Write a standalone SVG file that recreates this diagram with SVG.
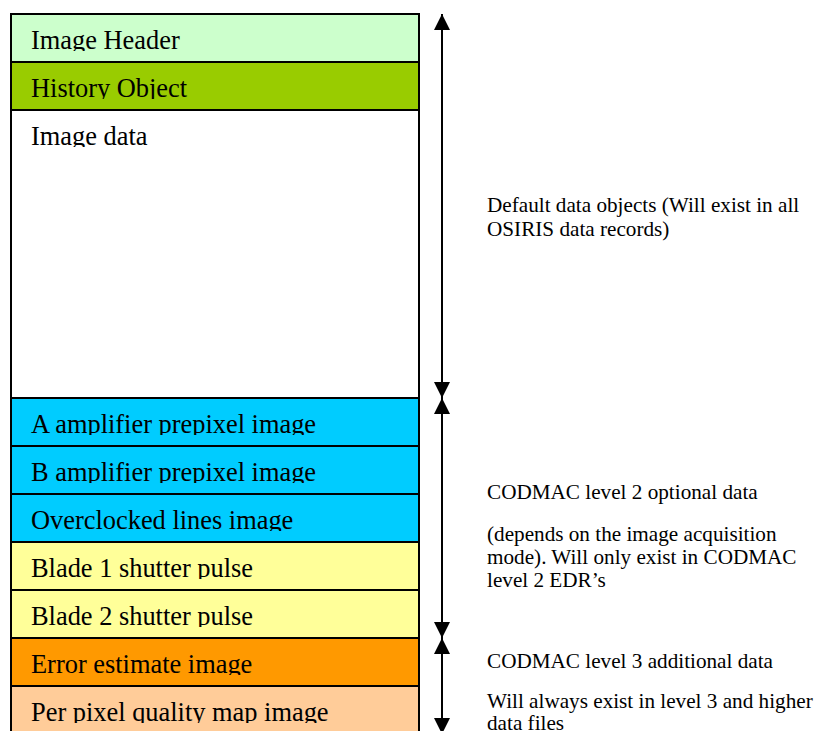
<svg xmlns="http://www.w3.org/2000/svg" width="817" height="731" viewBox="0 0 817 731">
<style>
.row{stroke:#000;stroke-width:2}
.lbl{font-family:"Liberation Serif","Times New Roman",serif;font-size:26.4px;fill:#000}
.note{font-family:"Liberation Serif","Times New Roman",serif;font-size:21.2px;fill:#000}
.conn{stroke:#000;stroke-width:2;fill:none}
</style>
<defs>
<clipPath id="rowclip">
<rect x="11" y="14" width="408" height="37"/>
<rect x="11" y="62" width="408" height="37"/>
<rect x="11" y="110" width="408" height="37"/>
<rect x="11" y="398" width="408" height="37"/>
<rect x="11" y="446" width="408" height="37"/>
<rect x="11" y="494" width="408" height="37"/>
<rect x="11" y="542" width="408" height="37"/>
<rect x="11" y="590" width="408" height="37"/>
<rect x="11" y="638" width="408" height="37"/>
<rect x="11" y="686" width="408" height="37"/>
</clipPath>
<marker id="ah" viewBox="0 0 16 16" refX="16" refY="8" markerWidth="16" markerHeight="16" markerUnits="userSpaceOnUse" orient="auto-start-reverse">
<path d="M0,0 L16,8 L0,16 Z" fill="#000"/>
</marker>
</defs>
<g id="image-header"><rect class="row" x="11" y="14" width="408" height="48" fill="#CCFFCC"/><text class="lbl" x="31" y="49" clip-path="url(#rowclip)">Image Header</text></g>
<g id="history-object"><rect class="row" x="11" y="62" width="408" height="48" fill="#99CC00"/><text class="lbl" x="31" y="97" clip-path="url(#rowclip)">History Object</text></g>
<g id="image-data"><rect class="row" x="11" y="110" width="408" height="288" fill="#FFFFFF"/><text class="lbl" x="31" y="145" clip-path="url(#rowclip)">Image data</text></g>
<g id="a-amp"><rect class="row" x="11" y="398" width="408" height="48" fill="#00CCFF"/><text class="lbl" x="31" y="433" clip-path="url(#rowclip)">A amplifier prepixel image</text></g>
<g id="b-amp"><rect class="row" x="11" y="446" width="408" height="48" fill="#00CCFF"/><text class="lbl" x="31" y="481" clip-path="url(#rowclip)">B amplifier prepixel image</text></g>
<g id="overclocked"><rect class="row" x="11" y="494" width="408" height="48" fill="#00CCFF"/><text class="lbl" x="31" y="529" clip-path="url(#rowclip)">Overclocked lines image</text></g>
<g id="blade1"><rect class="row" x="11" y="542" width="408" height="48" fill="#FFFF99"/><text class="lbl" x="31" y="577" clip-path="url(#rowclip)">Blade 1 shutter pulse</text></g>
<g id="blade2"><rect class="row" x="11" y="590" width="408" height="48" fill="#FFFF99"/><text class="lbl" x="31" y="625" clip-path="url(#rowclip)">Blade 2 shutter pulse</text></g>
<g id="error-estimate"><rect class="row" x="11" y="638" width="408" height="48" fill="#FF9900"/><text class="lbl" x="31" y="673" clip-path="url(#rowclip)">Error estimate image</text></g>
<g id="quality-map"><rect class="row" x="11" y="686" width="408" height="60" fill="#FFCC99"/><text class="lbl" x="31" y="721" clip-path="url(#rowclip)">Per pixel quality map image</text></g>
<g id="connectors">
<line class="conn" x1="442" y1="14" x2="442" y2="398" marker-start="url(#ah)" marker-end="url(#ah)"/>
<line class="conn" x1="442" y1="398" x2="442" y2="638" marker-start="url(#ah)" marker-end="url(#ah)"/>
<line class="conn" x1="442" y1="638" x2="442" y2="734" marker-start="url(#ah)" marker-end="url(#ah)"/>
</g>
<g id="note-default"><text class="note" x="487" y="212">Default data objects (Will exist in all</text><text class="note" x="487" y="236">OSIRIS data records)</text></g>
<g id="note-level2"><text class="note" x="487" y="499">CODMAC level 2 optional data</text><text class="note" x="487" y="541">(depends on the image acquisition</text><text class="note" x="487" y="564">mode). Will only exist in CODMAC</text><text class="note" x="487" y="587">level 2 EDR’s</text></g>
<g id="note-level3"><text class="note" x="487" y="668">CODMAC level 3 additional data</text><text class="note" x="487" y="708">Will always exist in level 3 and higher</text><text class="note" x="487" y="730">data files</text></g>
</svg>
